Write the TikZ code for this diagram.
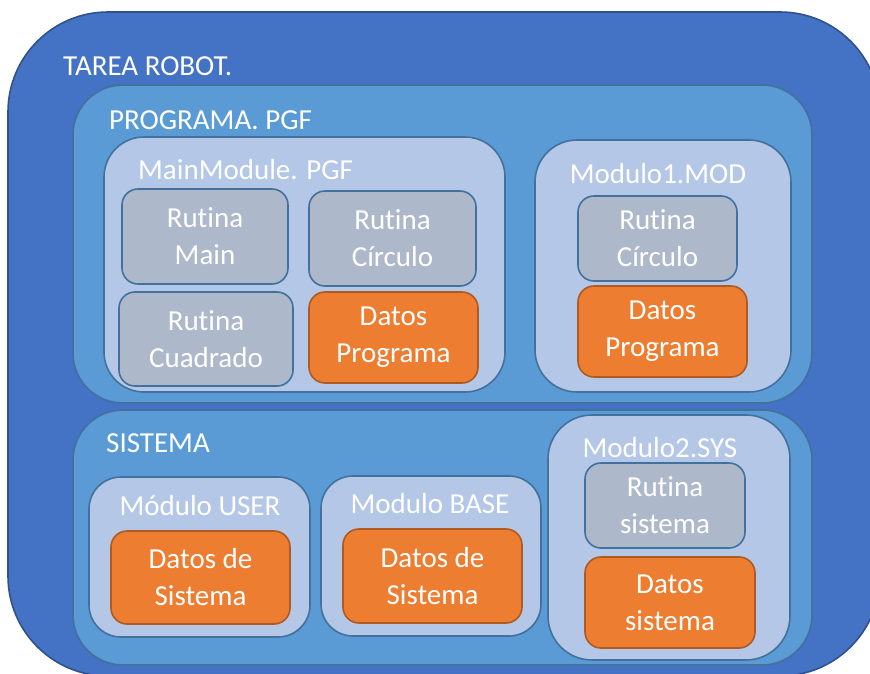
\documentclass[tikz,border=0pt]{standalone}
\usepackage{fontspec}
\setmainfont{Carlito}[RawFeature={-liga;-clig;-dlig;-calt}]
\definecolor{azulT}{HTML}{4472C4}
\definecolor{azulTb}{HTML}{2F528F}
\definecolor{azulP}{HTML}{5B9BD5}
\definecolor{azulPb}{HTML}{41719C}
\definecolor{azulM}{HTML}{B4C7E7}
\definecolor{grisR}{HTML}{ADB9CA}
\definecolor{naranja}{HTML}{ED7D31}
\definecolor{naranjaB}{HTML}{AE5A21}
\begin{document}
\begin{tikzpicture}[x=1pt,y=-1pt,line join=round,font=\fontsize{29}{37}\selectfont,
	borde/.style={line width=1.6pt,inner sep=0pt,text=white,align=center},
	tarea/.style={borde,draw=azulTb,fill=azulT,rounded corners=100pt},
	bloque/.style={borde,draw=azulPb,fill=azulP,rounded corners=50pt},
	modulo/.style={borde,draw=azulPb,fill=azulM,rounded corners=40pt},
	rutina/.style={borde,draw=azulPb,fill=grisR,rounded corners=16pt},
	datos/.style={borde,draw=naranjaB,fill=naranja,rounded corners=16pt},
	titulo/.style={text=white,inner sep=0pt}]
	\useasboundingbox (0,0) rectangle (870,673);
	\clip (0,0) rectangle (870,673);
	\node[tarea,minimum width=872,minimum height=664] (tarea) at (444,344) {};
	\node[bloque,minimum width=739,minimum height=318] (programa) at (442.5,244) {};
	\node[bloque,minimum width=739,minimum height=255] (sistema) at (442.5,537.5) {};
	\foreach \n/\x/\y/\w/\h/\r in {mainMod/304.5/264.5/401/255/40,mod1/663/266/256/252/42,
		modUser/199.5/557/221/160/32,modBase/431/556/220/160/32,mod2/669/537.5/242/245/44}
		\node[modulo,rounded corners=\r,minimum width=\w,minimum height=\h] (\n) at (\x,\y) {};
	\foreach \n/\x/\y/\w/\h/\t in {rMain/205/236.5/166/95/{Rutina\\Main},
		rCirc/392.5/238.5/167/95/{Rutina\\Círculo},rCuad/206/339/174/94/{Rutina\\Cuadrado},
		rCirc1/657.5/238.5/159/85/{Rutina\\Círculo},rSis/665/505.5/160/85/{Rutina\\sistema}}
		\node[rutina,minimum width=\w,minimum height=\h] (\n) at (\x,\y) {\t};
	\foreach \n/\x/\y/\w/\h/\t in {dProg/393.5/337.5/169/91/{Datos\\Programa},
		dProg1/662.5/331.5/169/91/{Datos\\Programa},dUser/200.5/577.5/179/93/{Datos de\\Sistema},
		dBase/432.5/576/179/94/{Datos de\\Sistema},dSis/670/602.5/170/91/{Datos\\sistema}}
		\node[datos,minimum width=\w,minimum height=\h] (\n) at (\x,\y) {\t};
	\node[titulo,anchor=base west] (tTarea) at (63,75) {TAREA ROBOT.};
	\node[titulo,anchor=base west] (tPrograma) at (109,129) {PROGRAMA. PGF};
	\node[titulo,anchor=base west] (tMain) at (138,179) {MainModule. PGF};
	\node[titulo,anchor=base west] (tSistema) at (106,452) {SISTEMA};
	\foreach \n/\x/\y/\t in {tMod1/658/183/Modulo1.MOD,tUser/200/515/Módulo USER,
		tBase/430/513/Modulo BASE,tMod2/660/457/Modulo2.SYS}
		\node[titulo,anchor=base] (\n) at (\x,\y) {\t};
\end{tikzpicture}
\end{document}
